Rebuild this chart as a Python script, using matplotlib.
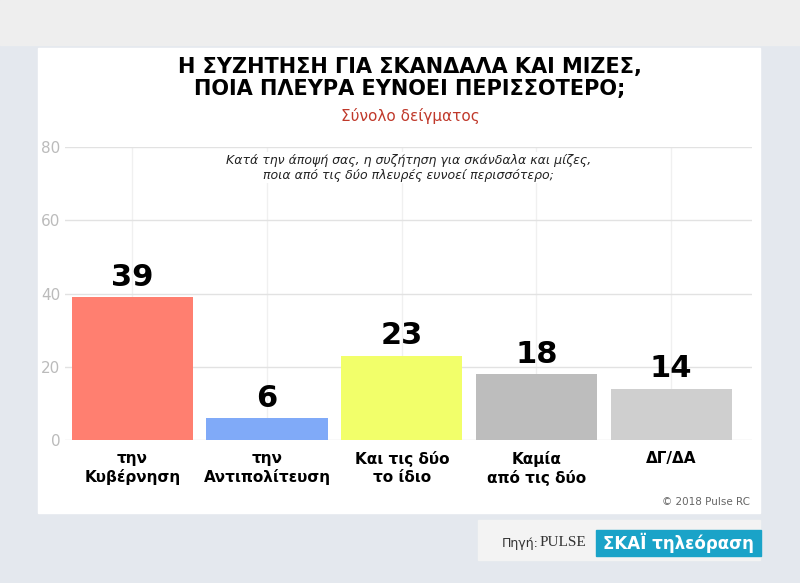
import matplotlib
matplotlib.use("Agg")
import matplotlib.pyplot as plt
from matplotlib.patches import Rectangle

categories = ["την\nΚυβέρνηση", "την\nΑντιπολίτευση", "Και τις δύο\nτο ίδιο", "Καμία\nαπό τις δύο", "ΔΓ/ΔΑ"]
values = [39, 6, 23, 18, 14]
colors = ["#FF7F70", "#80AAF8", "#F2FF6A", "#BDBDBD", "#CFCFCF"]
yticks = [0, 20, 40, 60, 80]

W, H = 800, 583
fig = plt.figure(figsize=(W/100, H/100), dpi=100)
fig.patch.set_facecolor("#E4E8EE")
bg = fig.add_axes([0, 0, 1, 1]); bg.set_axis_off()
bg.set_xlim(0, W); bg.set_ylim(H, 0)
bg.add_patch(Rectangle((0, 0), W, 45, color="#EEEEEE"))
bg.add_patch(Rectangle((38, 48), 722, 465, color="white"))
bg.add_patch(Rectangle((478, 520), 282, 40, color="#F3F3F3"))
bg.add_patch(Rectangle((596, 530), 165, 26, color="#1AA3C8"))
bg.text(502, 543, "Πηγή:", fontsize=9, va="center", ha="left", color="#333")
bg.text(563, 543, "PULSE", fontsize=11, va="center", ha="center", family="Liberation Serif", color="#333")
bg.text(678, 543, "ΣΚΑΪ τηλεόραση", fontsize=12, va="center", ha="center", color="white", fontweight="bold")
bg.text(750, 502, "© 2018 Pulse RC", fontsize=7.5, color="#666", ha="right", va="center")

bg.text(410, 78, "Η ΣΥΖΗΤΗΣΗ ΓΙΑ ΣΚΑΝΔΑΛΑ ΚΑΙ ΜΙΖΕΣ,\nΠΟΙΑ ΠΛΕΥΡΑ ΕΥΝΟΕΙ ΠΕΡΙΣΣΟΤΕΡΟ;",
        fontsize=15, fontweight="bold", ha="center", va="center", linespacing=1.1)
bg.text(410, 116, "Σύνολο δείγματος", fontsize=11, color="#C0392B", ha="center", va="center")

x0, x1 = 65, 752
y0, ytop = 440, 147
ax = fig.add_axes([x0/W, 1-y0/H, (x1-x0)/W, (y0-ytop)/H])
ax.set_facecolor("none")
xs = range(len(values))
ax.bar(xs, values, width=0.9, color=colors, zorder=2)
for x, v in zip(xs, values):
    ax.text(x, v + 1.5, str(v), ha="center", va="bottom", fontsize=22, fontweight="bold")
ax.text(0.5, 0.93, "Κατά την άποψή σας, η συζήτηση για σκάνδαλα και μίζες,\nποια από τις δύο πλευρές ευνοεί περισσότερο;",
        transform=ax.transAxes, fontsize=9, style="italic", ha="center", va="center", color="#222",
        bbox=dict(facecolor="white", edgecolor="none", pad=1), zorder=3)
ax.set_ylim(0, 80)
ax.set_xlim(-0.5, 4.6)
ax.set_yticks(yticks)
ax.set_xticks(list(xs))
ax.set_xticklabels(categories, fontsize=11, fontweight="bold")
ax.tick_params(axis="y", colors="#BBBBBB", labelsize=11, length=0)
ax.tick_params(axis="x", length=0, pad=8)
ax.grid(axis="y", color="#E2E2E2", lw=1, zorder=0)
ax.grid(axis="x", color="#F0F0F0", lw=1, zorder=0)
for s in ax.spines.values():
    s.set_visible(False)
fig.savefig("out.png", dpi=100)
